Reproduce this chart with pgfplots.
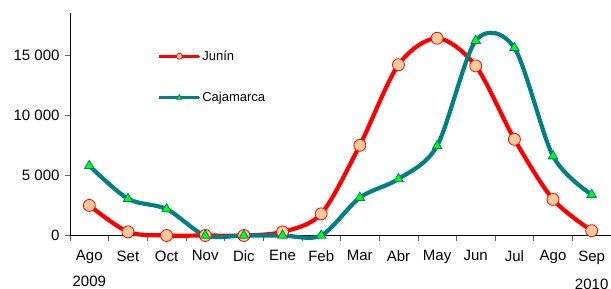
\documentclass[border=0pt]{standalone}
\usepackage{fontspec}
\setmainfont{Liberation Sans}
\usepackage{pgfplots}
\pgfplotsset{compat=1.18}
\definecolor{jred}{HTML}{FF0000}
\definecolor{jfill}{HTML}{FFCC99}
\definecolor{cteal}{HTML}{008080}
\definecolor{cgreen}{HTML}{00FF00}
\begin{document}
\begin{tikzpicture}
\begin{axis}[
  scale only axis, width=541pt, height=222.5pt,
  xmin=-0.5, xmax=13.5, ymin=0, ymax=18500,
  scaled y ticks=false,
  axis lines=left, axis line style={-, line width=0.8pt},
  clip=false,
  xtick={0,...,13},
  xticklabels={Ago,Set,Oct,Nov,Dic,Ene,Feb,Mar,Abr,May,Jun,Jul,Ago,Sep},
  major x tick style={draw=none},
  minor xtick={-0.5,0.5,...,13.5},
  minor tick length=5pt,
  minor x tick style={line width=0.5pt, black!60},
  ytick={0,5000,10000,15000},
  yticklabels={0,5 000,10 000,15 000},
  major tick length=5pt,
  tick align=outside,
  y tick style={line width=0.5pt, black!60},
  xticklabel style={font=\fontsize{15}{17}\selectfont, yshift=-6.5pt},
  yticklabel style={font=\fontsize{15}{17}\selectfont, xshift=-2pt},
  legend style={at={(rel axis cs:0.162,0.838)}, anchor=north west, draw=none, fill=none,
    font=\fontsize{13}{15}\selectfont, row sep=27.5pt, inner sep=0pt, nodes={inner sep=1.5pt}},
  legend cell align=left,
  legend image code/.code={\draw[#1, mark=none, line width=3pt] (0pt,0pt) -- (40pt,0pt); \draw[#1, line width=0.6pt, mark size=3pt, mark repeat=2, mark phase=2] plot coordinates {(0pt,0pt) (20pt,0pt) (40pt,0pt)};},
]
\addplot[color=jred, line width=4.2pt, smooth, tension=0.5, mark=*, mark size=6pt,
  mark options={fill=jfill, draw=jred, line width=0.8pt}]
  coordinates {(0,2500) (1,300) (2,0) (3,0) (4,0) (5,300) (6,1800) (7,7500) (8,14200) (9,16400) (10,14100) (11,8000) (12,3000) (13,400)};
\addlegendentry{Junín}
\addplot[color=cteal, line width=4.2pt, smooth, tension=0.5, mark=triangle*, mark size=5.5pt,
  mark options={fill=cgreen, draw=cteal, line width=0.8pt}]
  coordinates {(0,5800) (1,3050) (2,2200) (3,0) (4,0) (5,0) (6,0) (7,3150) (8,4700) (9,7450) (10,16200) (11,15600) (12,6600) (13,3400)};
\addlegendentry{Cajamarca}
\node[font=\fontsize{15}{17}\selectfont] at (axis cs:0,0) [yshift=-45.5pt] {2009};
\node[font=\fontsize{15}{17}\selectfont] at (axis cs:13,0) [yshift=-49pt] {2010};
\end{axis}
\pgfresetboundingbox
\useasboundingbox (current axis.south west) ++(-70pt,-53.5pt) rectangle ++(611pt,289pt);
\end{tikzpicture}
\end{document}
